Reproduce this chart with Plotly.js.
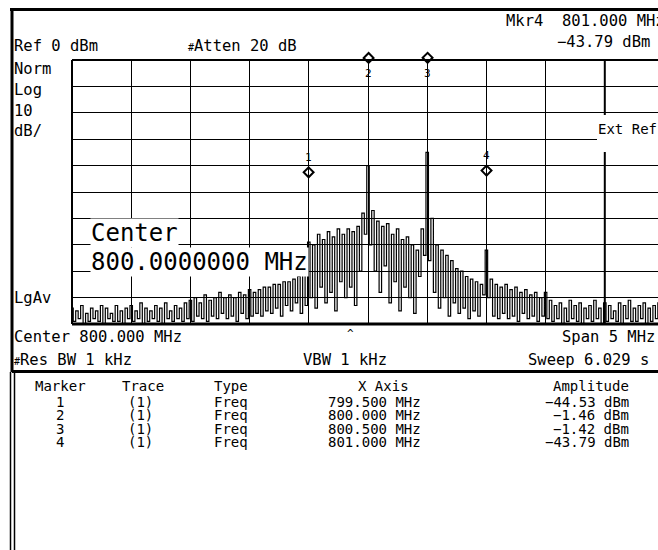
<!DOCTYPE html>
<html><head><meta charset="utf-8">
<script src="https://cdn.plot.ly/plotly-3.0.1.min.js"></script>
<style>html,body{margin:0;padding:0;background:#fff}#chart{width:658px;height:550px}</style>
</head><body><div id="chart"></div>
<script>
// ---- instrument settings ----
const centerFreq = 800.0;   // MHz
const spanMHz = 5;          // MHz
const refLevel = 0;         // dBm
const dbPerDiv = 10;
const numDivs = 10;

// ---- trace: alternating peak / trough readings (dBm) ----
const peakLevels = [
  -94,-95,-93,-96,-94,-95,-93,-94,-96,-93,-95,-94,-93,-95,-92,-94,-95,-93,-94,-92,-95,-93,-94,
  -92,-91,-90,-92,-89,-91,-90,-88,-90,-89,-90,-88,-89,-87,-88,
  -87,-86,-86,-85,-85,-84,-84,-83,-82,-81,
  -69,
  -70,-66,-68,-65,-67,-64,-66,-64,-65,-63,
  -58,-40,-57,
  -61,-63,-62,-66,-64,-68,-67,-70,-72,
  -64,-35,-60,
  -70,-72,-74,-76,-79,-80,-82,-83,-84,-85,
  -72,
  -83,-85,-86,-85,-87,-86,-88,-87,-89,-88,-90,-88,
  -91,-93,-92,-94,-91,-93,-92,-94,-93,-91,-94,-92,-93,-95,-92,-93,-91,-94,-93,-92,-94,-93,-92,-94
];
const troughLevels = [
  -99,-98,-100,-99,-98,-99,-100,-98,-99,-99,-100,-98,-99,-98,-100,-99,-98,-99,-100,-98,-99,-98,-99,
  -98,-99,-97,-98,-99,-97,-98,-96,-98,-97,-99,-96,-98,-97,-96,
  -97,-95,-96,-94,-97,-93,-95,-92,-96,-93,
  -90,-94,-86,-92,-88,-95,-84,-90,-86,-93,-80,
  -66,-70,
  -80,-88,-78,-92,-84,-95,-86,-90,-96,-82,
  -74,-76,
  -88,-94,-90,-97,-92,-96,-94,-98,-95,-97,-89,
  -90,
  -97,-98,-96,-98,-97,-99,-96,-98,-97,-99,-97,-98,
  -99,-98,-100,-99,-98,-99,-100,-98,-99,-98,-100,-99,-98,-99,-100,-98,-99,-99,-98,-100,-99,-98,-99
];

// ---- markers ----
const markerIds = [1, 2, 3, 4];
const markerTraces = ["(1)", "(1)", "(1)", "(1)"];
const markerTypes = ["Freq", "Freq", "Freq", "Freq"];
const markerFreqs = [799.5, 800.0, 800.5, 801.0];
const markerAmps = [-44.53, -1.46, -1.42, -43.79];
const activeMarker = 4;

// ---- status texts ----
const resBW = "1 kHz", vbw = "1 kHz", sweepTime = "6.029 s", atten = "20 dB";

// ---------------- build ----------------
const startFreq = centerFreq - spanMHz / 2;
const bottomLevel = refLevel - dbPerDiv * numDivs;
const traceY = [];
peakLevels.forEach((p, i) => { traceY.push(p); if (i < troughLevels.length) traceY.push(troughLevels[i]); });
const nPts = traceY.length;
const traceX = traceY.map((_, k) => startFreq + k * spanMHz / (nPts - 1));

// pixel geometry
const W = 658, H = 550, L = 72, T = 60, B = 324, GRIDW = 592;
const PW = W - L, PH = B - T;
const xEnd = startFreq + spanMHz * PW / GRIDW;
const X = px => (px - L) / PW;
const Y = py => (B - py) / PH;

const MONO = "DejaVu Sans Mono";
const anns = [];
function txt(text, xpx, ypx, anchor, size, extra) {
  anns.push(Object.assign({
    xref: "paper", yref: "paper", x: X(xpx), y: Y(ypx), text: text, showarrow: false,
    xanchor: anchor, yanchor: "middle", font: { family: MONO, size: size, color: "#000" }, borderpad: 0
  }, extra || {}));
}
const hash = '<span style="font-size:10px">#</span>';
const fmtF = f => f.toFixed(3) + " MHz";
const fmtA = a => (a < 0 ? "\u2212" : "") + Math.abs(a).toFixed(2) + " dBm";

// header
const ai = markerIds.indexOf(activeMarker);
txt("Mkr" + activeMarker + "  " + fmtF(markerFreqs[ai]), 505, 21, "left", 15.5);
txt(fmtA(markerAmps[ai]), 651, 42, "right", 15.5);
txt("Ref " + refLevel + " dBm", 13, 46, "left", 15.5);
txt(hash + "Atten " + atten, 187, 46, "left", 15.5);
txt("Norm", 13, 69, "left", 15.5);
txt("Log", 13, 90, "left", 15.5);
txt(String(dbPerDiv), 13, 111, "left", 15.5);
txt("dB/", 13, 131, "left", 15.5);
txt("LgAv", 13, 298, "left", 15.5);
txt("Ext Ref", 597, 129, "left", 14);
// big center readout
txt("Center", 90, 233, "left", 24, { bgcolor: "#fff" });
txt(centerFreq.toFixed(7) + " MHz", 90, 262, "left", 24, { bgcolor: "#fff" });
// footer
txt("Center " + centerFreq.toFixed(3) + " MHz", 13, 337, "left", 15.5);
txt("Span " + spanMHz + " MHz", 656, 337, "right", 15.5);
txt("^", 350, 333, "center", 11);
txt(hash + "Res BW " + resBW, 13, 360, "left", 15.5);
txt("VBW " + vbw, 302, 360, "left", 15.5);
txt("Sweep " + sweepTime, 650, 360, "right", 15.5);
// table
const rowY0 = 386, rowDY = 13.3, firstRow = 402;
txt("Marker", 60, rowY0, "center", 14);
txt("Trace", 143, rowY0, "center", 14);
txt("Type", 213, rowY0, "left", 14);
txt("X Axis", 383, rowY0, "center", 14);
txt("Amplitude", 630, rowY0, "right", 14);
markerIds.forEach((id, i) => {
  const y = firstRow + i * rowDY;
  txt(String(id), 60, y, "center", 14);
  txt(markerTraces[i], 140, y, "center", 14);
  txt(markerTypes[i], 213, y, "left", 14);
  txt(fmtF(markerFreqs[i]), 327, y, "left", 14);
  txt(fmtA(markerAmps[i]), 630, y, "right", 14);
});
// marker diamonds and number labels
markerIds.forEach((id, i) => {
  const nearTop = markerAmps[i] > refLevel - dbPerDiv;
  anns.push({ xref: "x", yref: "y", x: markerFreqs[i], y: markerAmps[i], text: "&nbsp;", showarrow: false,
    width: 5, height: 5, borderpad: 0, bordercolor: "#000", borderwidth: 2, bgcolor: "rgba(255,255,255,0)",
    textangle: 45, xanchor: "center", yanchor: "middle", yshift: nearTop ? 6 : 5,
    font: { family: MONO, size: 2, color: "#000" } });
  anns.push({ xref: "x", yref: "y", x: markerFreqs[i], y: markerAmps[i], text: String(id), showarrow: false,
    xanchor: "center", yanchor: "middle", yshift: nearTop ? -10 : 20,
    font: { family: MONO, size: 11, color: "#000" } });
});

const lineShape = (x0, y0, x1, y1, w) => ({ type: "line", xref: "paper", yref: "paper",
  x0: X(x0), y0: Y(y0), x1: X(x1), y1: Y(y1), line: { color: "#000", width: w }, layer: "above" });
const shapes = [
  lineShape(L, T, W, T, 2),
  lineShape(L, T, L, B, 2),
  lineShape(L, B, W, B, 3),
  { type: "line", xref: "x", yref: "paper", x0: startFreq + spanMHz * 0.9, x1: startFreq + spanMHz * 0.9, y0: 0, y1: 1,
    line: { color: "#000", width: 2 }, layer: "above" },
  { type: "rect", xref: "paper", yref: "paper", x0: X(597), x1: X(W + 2), y0: Y(152), y1: Y(115),
    fillcolor: "#fff", line: { width: 0 }, layer: "above" },
  lineShape(10, 9.5, W, 9.5, 3),
  lineShape(12, 8, 12, 372, 3),
  lineShape(10.5, 372, 10.5, H, 1.5),
  lineShape(14.5, 372, 14.5, H, 1.5),
  lineShape(12, 371.5, W, 371.5, 3)
];

const traces = [
  { x: traceX, y: traceY, type: "scatter", mode: "lines", line: { color: "#000", width: 1.2, shape: "hvh" },
    hoverinfo: "skip", showlegend: false }
];

const layout = {
  width: W, height: H, margin: { l: L, r: 0, t: T, b: H - B, pad: 0, autoexpand: false },
  paper_bgcolor: "#fff", plot_bgcolor: "#fff", showlegend: false,
  xaxis: { range: [startFreq, xEnd], tick0: startFreq, dtick: spanMHz / numDivs, showgrid: true,
    gridcolor: "#000", gridwidth: 1, showticklabels: false, ticks: "", zeroline: false, showline: false, fixedrange: true },
  yaxis: { range: [bottomLevel, refLevel], tick0: bottomLevel, dtick: dbPerDiv, showgrid: true,
    gridcolor: "#000", gridwidth: 1, showticklabels: false, ticks: "", zeroline: false, showline: false, fixedrange: true },
  annotations: anns, shapes: shapes
};
Plotly.newPlot("chart", traces, layout, { staticPlot: true, displayModeBar: false });
</script></body></html>
